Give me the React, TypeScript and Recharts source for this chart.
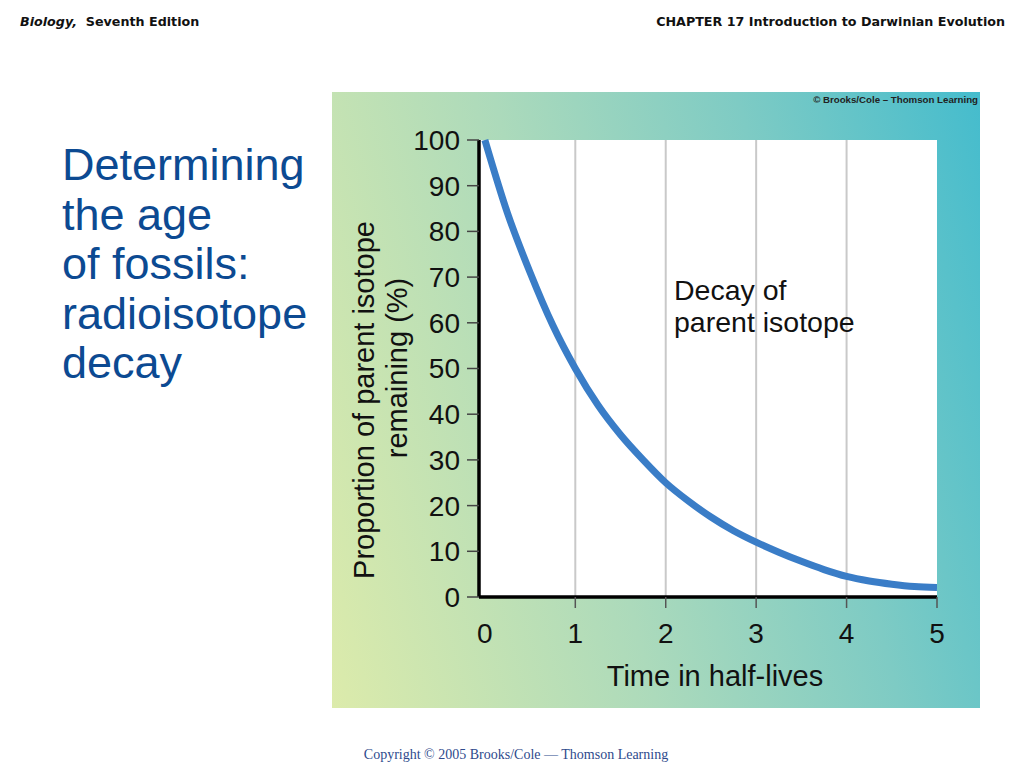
import { LineChart, Line, XAxis, YAxis, CartesianGrid, ReferenceLine } from 'recharts'

const HALF_LIVES = [0, 0.25, 0.5, 0.75, 1, 1.25, 1.5, 1.75, 2, 2.25, 2.5, 2.75, 3, 3.25, 3.5, 3.75, 4, 4.25, 4.5, 4.75, 5]
const REMAINING = [100, 84, 71, 59.5, 50, 42, 35.5, 30, 25, 21, 17.5, 14.5, 12, 9.8, 7.8, 6, 4.5, 3.5, 2.8, 2.3, 2.1]
const X_TICKS = [0, 1, 2, 3, 4, 5]
const Y_TICKS = [0, 10, 20, 30, 40, 50, 60, 70, 80, 90, 100]
const GRID_X = [1, 2, 3, 4]
const TITLE_LINES = ['Determining', 'the age', 'of fossils:', 'radioisotope', 'decay']
const Y_LABEL = ['Proportion of parent isotope', 'remaining (%)']
const X_LABEL = 'Time in half-lives'
const NOTE_LINES = ['Decay of', 'parent isotope']

const SANS = 'Arial, "Liberation Sans", Helvetica, sans-serif'

const data = HALF_LIVES.map((t, i) => ({ t, remaining: REMAINING[i] }))

function XTick(props: any) {
  const { x, y, payload } = props
  return (
    <g>
      {payload.value !== 0 && <line x1={x} x2={x} y1={y} y2={y + 11} stroke="#555" strokeWidth={1.5} />}
      <text x={x} y={y + 46} textAnchor="middle" fontSize={28} fontFamily={SANS} fill="#111">
        {payload.value}
      </text>
    </g>
  )
}

function YLabel() {
  return (
    <g fontFamily={SANS} fontSize={29} fill="#111">
      <text x={32} y={308} transform="rotate(-90, 32, 308)" textAnchor="middle" dominantBaseline="central">
        {Y_LABEL[0]}
      </text>
      <text x={65} y={276} transform="rotate(-90, 65, 276)" textAnchor="middle" dominantBaseline="central">
        {Y_LABEL[1]}
      </text>
    </g>
  )
}

function XLabel() {
  return (
    <text x={383} y={594} textAnchor="middle" fontFamily={SANS} fontSize={29} fill="#111">
      {X_LABEL}
    </text>
  )
}

export default function App() {
  return (
    <div style={{ position: 'absolute', left: 0, top: 0, width: 1024, height: 768, background: '#fff', overflow: 'hidden' }}>
      <div style={{ position: 'absolute', left: 20, top: 14, fontFamily: '"DejaVu Sans", Verdana, sans-serif', fontWeight: 'bold', fontSize: 12.7, color: '#111' }}>
        <i>Biology,</i>&nbsp; Seventh Edition
      </div>
      <div style={{ position: 'absolute', right: 19, top: 14, fontFamily: '"DejaVu Sans", Verdana, sans-serif', fontWeight: 'bold', fontSize: 12.7, color: '#111' }}>
        CHAPTER 17 Introduction to Darwinian Evolution
      </div>

      <div style={{ position: 'absolute', left: 62, top: 140, fontFamily: SANS, fontSize: 45, lineHeight: '49.5px', color: '#0c4a92' }}>
        {TITLE_LINES.map((l) => (
          <div key={l}>{l}</div>
        ))}
      </div>

      <div
        style={{
          position: 'absolute',
          left: 332,
          top: 92,
          width: 648,
          height: 616,
          background: 'linear-gradient(75deg, #dcebab 0%, #acdabb 40%, #7ecbc4 70%, #45bccd 100%)',
        }}
      >
        <LineChart width={648} height={616} data={data} margin={{ top: 48, right: 43, bottom: 0, left: 0 }}>
          <CartesianGrid fill="#fff" horizontal={false} vertical={false} />
          <XAxis
            type="number"
            dataKey="t"
            domain={[-0.065, 5]}
            ticks={X_TICKS}
            allowDataOverflow
            height={111}
            axisLine={{ stroke: '#000', strokeWidth: 3.5 }}
            tickLine={false}
            tickSize={0}
            tickMargin={0}
            tick={<XTick />}
            label={{ content: XLabel }}
          />
          <YAxis
            domain={[0, 100]}
            ticks={Y_TICKS}
            width={147}
            axisLine={{ stroke: '#000', strokeWidth: 3.5 }}
            tickLine={{ stroke: '#444', strokeWidth: 1.5 }}
            tickSize={12}
            tickMargin={7}
            tick={{ fontSize: 28, fontFamily: SANS, fill: '#111' }}
            label={{ content: YLabel }}
          />
          {GRID_X.map((g) => (
            <ReferenceLine key={g} x={g} stroke="#c9c9c9" strokeWidth={2} />
          ))}
          <Line
            type="monotone"
            dataKey="remaining"
            stroke="#3a7dc7"
            strokeWidth={7}
            dot={false}
            isAnimationActive={false}
          />
        </LineChart>
        <div style={{ position: 'absolute', right: 2, top: 2, fontFamily: SANS, fontWeight: 'bold', fontSize: 9.7, color: '#222' }}>
          © Brooks/Cole – Thomson Learning
        </div>
        <div style={{ position: 'absolute', left: 342, top: 182, fontFamily: SANS, fontSize: 28.5, lineHeight: '32px', color: '#111' }}>
          {NOTE_LINES.map((l) => (
            <div key={l}>{l}</div>
          ))}
        </div>
      </div>

      <div style={{ position: 'absolute', left: 0, width: 1032, top: 747, textAlign: 'center', fontFamily: '"Liberation Serif", "Times New Roman", serif', fontSize: 14, color: '#2e4a8c' }}>
        Copyright © 2005 Brooks/Cole — Thomson Learning
      </div>
    </div>
  )
}
